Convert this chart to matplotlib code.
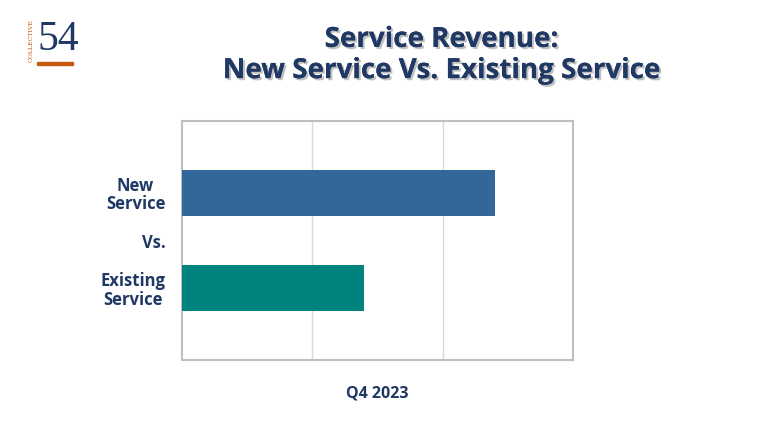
import matplotlib
matplotlib.use("Agg")
import matplotlib.pyplot as plt
import matplotlib.patheffects as pe

categories = ["New\nService", "Vs.", "Existing\nService"]
values = [2.4, None, 1.4]
colors = ["#336699", None, "#00827F"]
xlabel = "Q4 2023"
title = "Service Revenue:\nNew Service Vs. Existing Service"

navy = "#1F3864"
fig = plt.figure(figsize=(7.68, 4.32), dpi=100)
ax = fig.add_axes([182/768, 1-360/432, (573-182)/768, (360-121)/432])
pos = [3.5, 2.5, 1.5]
for p, v, c in zip(pos, values, colors):
    if v is not None:
        ax.barh(p, v, height=0.97, color=c, zorder=3)
ax.set_xlim(0, 3)
ax.set_ylim(0, 5)
ax.set_yticks(pos)
ax.set_yticklabels(categories, fontsize=12, fontweight="bold", color=navy,
                   family="Open Sans", linespacing=1.05)
for t in ax.get_yticklabels():
    t.set_multialignment("center")
ax.set_xticks([1, 2])
ax.set_xticklabels([])
ax.tick_params(length=0, pad=12)
ax.grid(axis="x", color="#D9D9D9", lw=1, zorder=0)
for s in ax.spines.values():
    s.set_color("#BFBFBF"); s.set_linewidth(1.5)
ax.set_xlabel(xlabel, fontsize=11.5, fontweight="bold", color=navy, family="Open Sans", labelpad=6)

fig.text(0.575, 1-55/432, title, ha="center", va="center", fontsize=20, fontweight="bold",
         color=navy, family="Open Sans", linespacing=1.1,
         path_effects=[pe.withSimplePatchShadow(offset=(1.5, -1.5), shadow_rgbFace="#999999", alpha=0.6), pe.Normal()])

# logo
fig.text(37/768, 1-40/432, "54", ha="left", va="center", fontsize=30, color=navy, family="Liberation Serif")
fig.text(31/768, 1-40/432, "COLLECTIVE", ha="center", va="center", fontsize=4.5, rotation=90, color="#C55A11", family="DejaVu Serif")
fig.patches.append(plt.Rectangle((37/768, 1-65/432), 36/768, 3/432, transform=fig.transFigure, color="#C55A11"))
fig.savefig("out.png", dpi=100)
